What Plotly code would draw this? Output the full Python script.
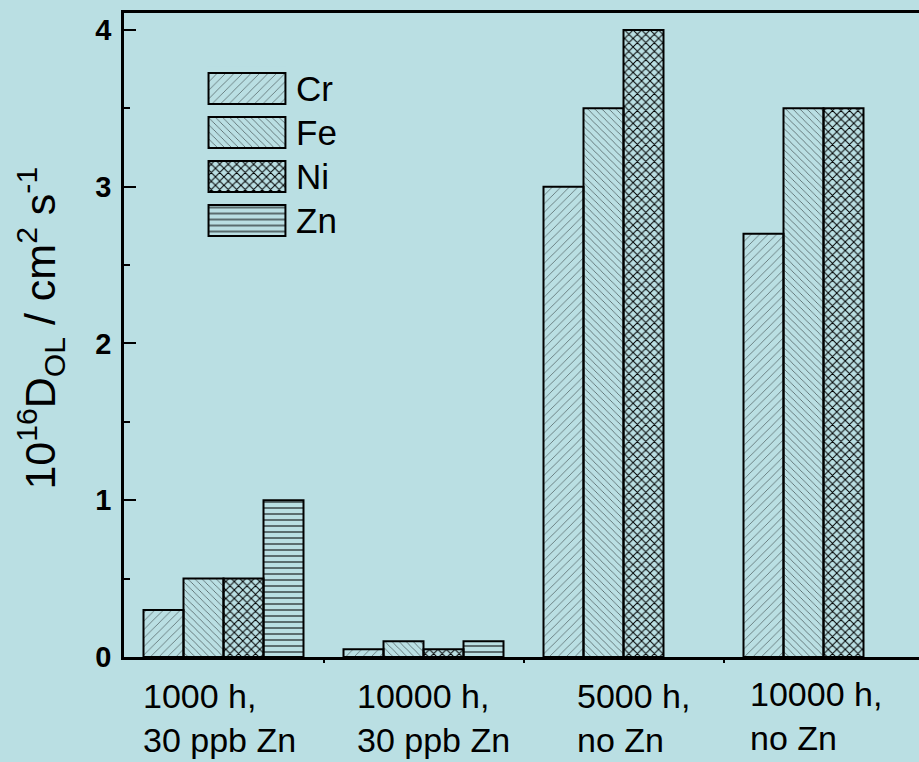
import plotly.graph_objects as go

# --- data -------------------------------------------------------------
conditions = ["1000 h,<br>30 ppb Zn", "10000 h,<br>30 ppb Zn",
              "5000 h,<br>no Zn", "10000 h,<br>no Zn"]
elements = ["Cr", "Fe", "Ni", "Zn"]
cr = [0.3, 0.05, 3.0, 2.7]
fe = [0.5, 0.1, 3.5, 3.5]
ni = [0.5, 0.05, 4.0, 3.5]
zn = [1.0, 0.1, None, None]
y_ticks = [0, 1, 2, 3, 4]

# --- styling ----------------------------------------------------------
BG = "#BADFE3"
FONT = "Liberation Sans, Arial, sans-serif"
hatch = {"Cr": ("/", 6, 0.07), "Fe": ("\\", 5, 0.09),
         "Ni": ("x", 6, 0.3), "Zn": ("-", 6, 0.17)}

fig = go.Figure()

for name, vals in zip(elements, [cr, fe, ni, zn]):
    shape, size, sol = hatch[name]
    fig.add_trace(go.Bar(
        x=conditions, y=vals, name=name, showlegend=False,
        marker=dict(color="rgba(0,0,0,0)",
                    line=dict(color="black", width=2),
                    pattern=dict(shape=shape, size=size, solidity=sol,
                                 fgcolor="black", fillmode="replace")),
        xaxis="x", yaxis="y",
    ))

# legend key drawn as patterned swatches on an inset axis
fig.add_trace(go.Bar(
    x=[1] * len(elements), y=elements, orientation="h", width=0.7,
    showlegend=False, hoverinfo="skip",
    marker=dict(color="rgba(0,0,0,0)",
                line=dict(color="black", width=2),
                pattern=dict(shape=[hatch[e][0] for e in elements],
                             size=[hatch[e][1] for e in elements],
                             solidity=[hatch[e][2] for e in elements],
                             fgcolor="black", fillmode="replace")),
    xaxis="x2", yaxis="y2",
))

annotations = []
for e in elements:
    annotations.append(dict(
        x=1.02, y=e, xref="x2", yref="y2", text=e, showarrow=False,
        xanchor="left", yanchor="middle", xshift=7,
        font=dict(family=FONT, size=35, color="black")))

label_shift = [-82, -68, -48, -75]
label_drop = [-19, -19, -19, -17]
for i, c in enumerate(conditions):
    annotations.append(dict(
        x=i, y=0, xref="x", yref="y", text=c, showarrow=False,
        xanchor="left", yanchor="top", align="left",
        xshift=label_shift[i], yshift=label_drop[i], borderpad=0,
        font=dict(family=FONT, size=34, color="black")))

# rotated axis title, placed slightly above the plot-area centre
annotations.append(dict(
    x=0, y=0.51, xref="paper", yref="paper", xanchor="right", yanchor="middle",
    xshift=-52, textangle=-90, showarrow=False,
    text="10<sup>16</sup>D<sub>OL</sub> / cm<sup>2</sup> s<sup>-1</sup>",
    font=dict(family=FONT, size=43, color="black")))

fig.update_layout(
    width=919, height=762,
    margin=dict(l=124, r=0, t=13, b=105),
    paper_bgcolor=BG, plot_bgcolor=BG,
    barmode="group", bargap=0.2, bargroupgap=0,
    font=dict(family=FONT, color="black"),
    annotations=annotations,
    xaxis=dict(
        type="category", range=[-0.4975, 3.4775],
        showline=True, linecolor="black", linewidth=2.5, mirror=True,
        showgrid=False, zeroline=False,
        ticks="outside", tickson="boundaries", ticklen=3, tickwidth=1.5,
        tickcolor="black", showticklabels=False,
    ),
    yaxis=dict(
        range=[0, 4.108], tickvals=y_ticks,
        showline=True, linecolor="black", linewidth=2.5, mirror=False,
        showgrid=False, zeroline=False,
        ticks="inside", ticklen=12, tickwidth=2, tickcolor="black",
        minor=dict(dtick=0.5, ticks="inside", ticklen=6, tickwidth=2,
                   tickcolor="black", showgrid=False),
        tickfont=dict(family=FONT, size=29, color="black", weight="bold"),
        ticklabelstandoff=4,
    ),
    xaxis2=dict(domain=[0.1044, 0.2050], range=[-0.02, 1.02], anchor="y2",
                visible=False, fixedrange=True),
    yaxis2=dict(domain=[0.6436, 0.9169], range=[3.5, -0.5], anchor="x2",
                visible=False, type="category", fixedrange=True),
)

fig.write_html("out.html")
